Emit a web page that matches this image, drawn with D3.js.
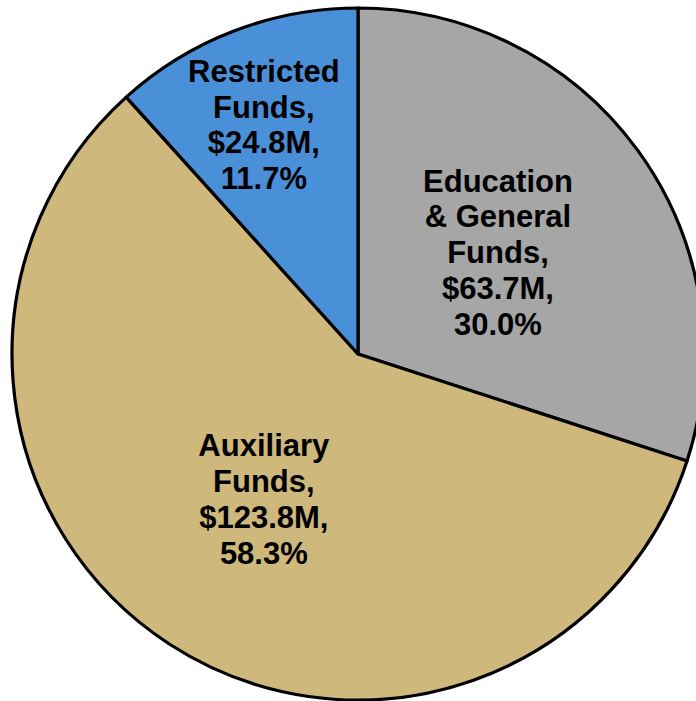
<!DOCTYPE html>
<html>
<head>
<meta charset="utf-8">
<script src="https://cdn.jsdelivr.net/npm/d3@7"></script>
<style>
  body { margin: 0; background: #fff; }
  svg { display: block; }
</style>
</head>
<body>
<div id="vis"></div>
<script>
// data
const categories = ["Education & General Funds", "Auxiliary Funds", "Restricted Funds"];
const values = [63.7, 123.8, 24.8];
const percents = ["30.0%", "58.3%", "11.7%"];
const labelLines = [
  ["Education", "& General", "Funds,", "$63.7M,", "30.0%"],
  ["Auxiliary", "Funds,", "$123.8M,", "58.3%"],
  ["Restricted", "Funds,", "$24.8M,", "11.7%"]
];
const colors = ["#a5a6a5", "#cfb87c", "#4a90d9"];

const width = 696, height = 701;
const cx = 358, cy = 354, radius = 346;

const svg = d3.select("#vis")
  .append("svg")
    .attr("width", width)
    .attr("height", height);

const g = svg.append("g")
  .attr("transform", `translate(${cx},${cy})`);

const pie = d3.pie().sort(null).value(d => d.value);
const data = categories.map((c, i) => ({ name: c, value: values[i], lines: labelLines[i], color: colors[i] }));
const arcs = pie(data);

const arc = d3.arc().innerRadius(0).outerRadius(radius);

g.selectAll("path")
  .data(arcs)
  .join("path")
    .attr("d", arc)
    .attr("fill", d => d.data.color)
    .attr("stroke", "#000")
    .attr("stroke-width", 3.2)
    .attr("stroke-linejoin", "round");

// label radius: small slice gets pushed further out
const labelR = [0.5, 0.5, 0.71];
const labelDx = [0, 0, -6];
const fontSize = 31, lineH = 35.8;

g.selectAll("text.lbl")
  .data(arcs)
  .join("text")
    .attr("class", "lbl")
    .attr("font-family", "'Liberation Sans', Arial, sans-serif")
    .attr("font-weight", "bold")
    .attr("font-size", fontSize)
    .attr("fill", "#000")
    .attr("text-anchor", "middle")
    .each(function(d, i) {
      const r = radius * labelR[i];
      const la = d3.arc().innerRadius(r).outerRadius(r);
      const [x, y] = la.centroid(d);
      const n = d.data.lines.length;
      const top = y - (n - 1) * lineH / 2;
      d3.select(this).selectAll("tspan")
        .data(d.data.lines)
        .join("tspan")
          .attr("x", x + labelDx[i])
          .attr("y", (t, j) => top + j * lineH)
          .attr("dy", "0.35em")
          .text(t => t);
    });
</script>
</body>
</html>
